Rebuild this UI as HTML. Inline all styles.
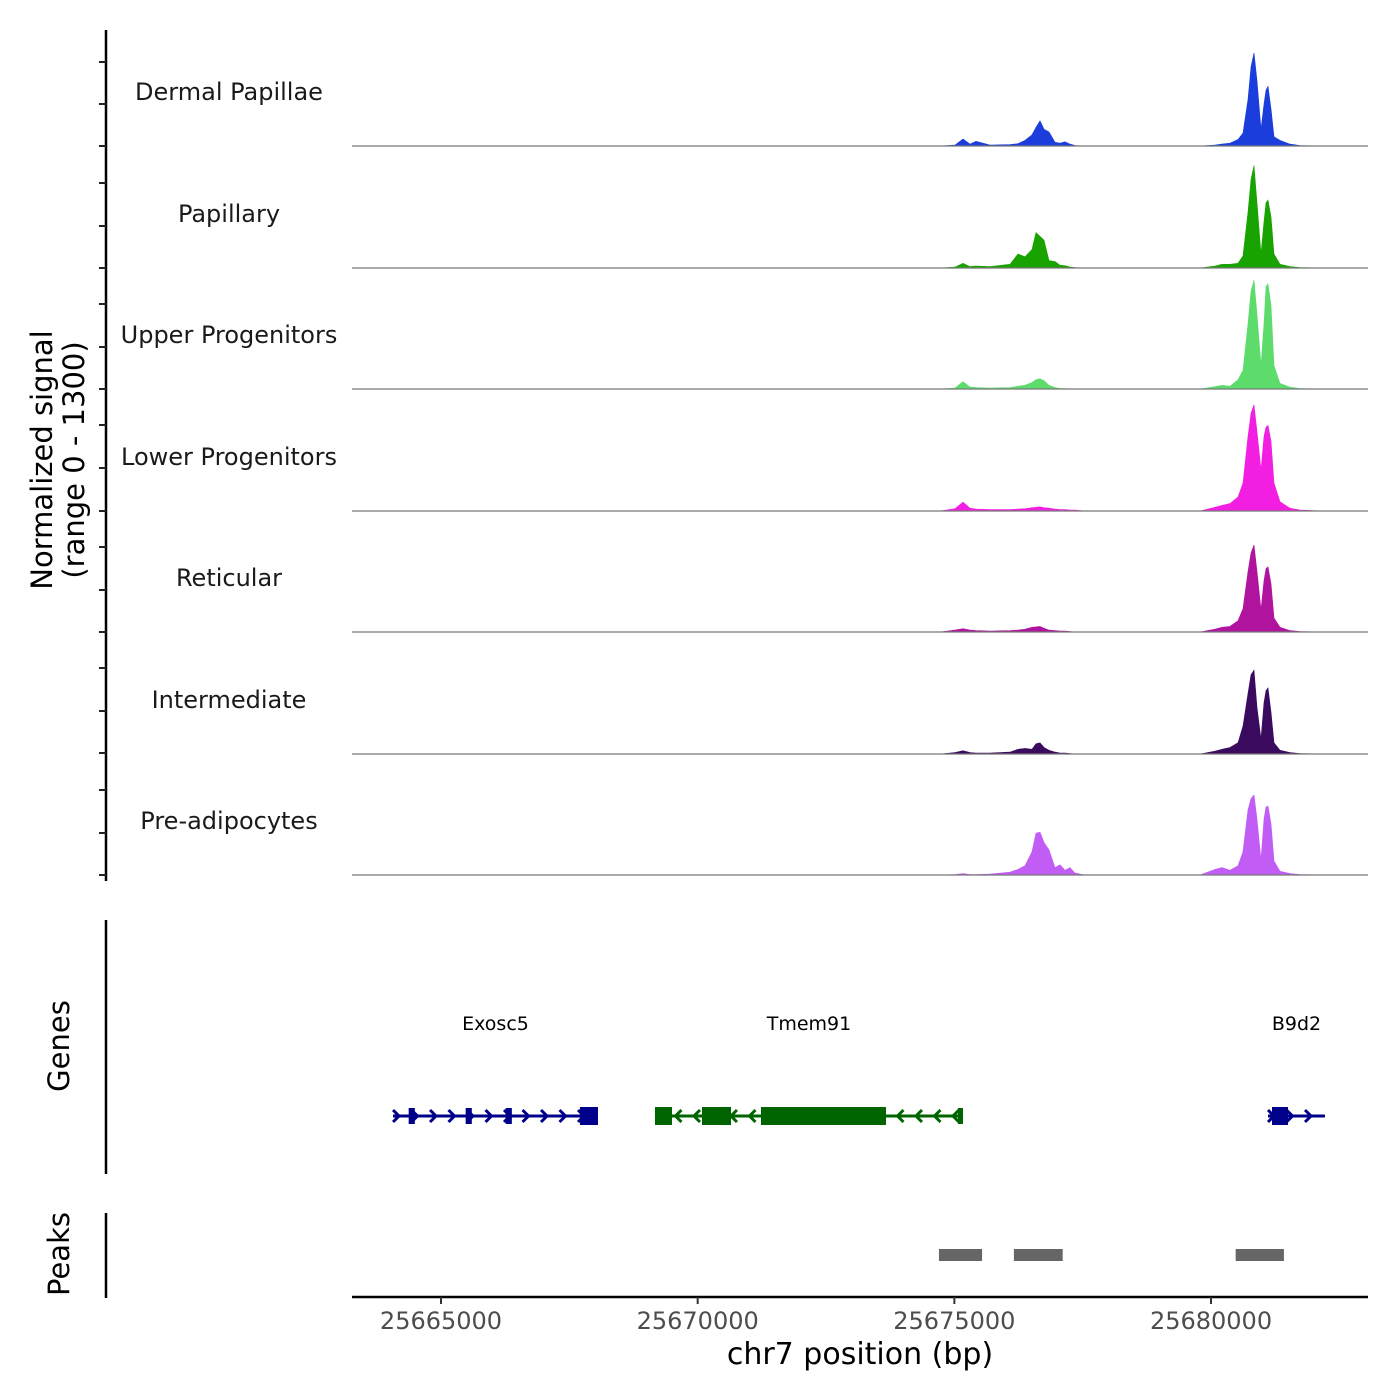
<!DOCTYPE html>
<html><head><meta charset="utf-8"><style>
html,body{margin:0;padding:0;background:#fff;}
svg{display:block;font-family:"DejaVu Sans","Liberation Sans",sans-serif;}
</style></head><body>
<svg id="chart" width="1400" height="1400" viewBox="0 0 1400 1400" xmlns="http://www.w3.org/2000/svg">
<rect width="1400" height="1400" fill="#fff"/>
<g id="tracks"></g>
<g id="yaxis"></g>
<text transform="translate(52,460) rotate(-90)" text-anchor="middle" font-size="29" fill="#000">Normalized signal</text>
<text transform="translate(84,460) rotate(-90)" text-anchor="middle" font-size="29" fill="#000">(range 0 - 1300)</text>
<g id="genes"></g>
<line x1="106" y1="920" x2="106" y2="1174" stroke="#000" stroke-width="2.5"/>
<text transform="translate(69,1046) rotate(-90)" text-anchor="middle" font-size="29">Genes</text>
<g id="peaks"></g>
<line x1="106" y1="1213" x2="106" y2="1298" stroke="#000" stroke-width="2.5"/>
<text transform="translate(69,1254) rotate(-90)" text-anchor="middle" font-size="29">Peaks</text>
<g id="xaxis"></g>
<text x="860" y="1364" text-anchor="middle" font-size="30">chr7 position (bp)</text>
</svg>
<script>
const positions=[25663266,25664201,25667903,25672675,25674721,25675013,25675169,25675305,25675422,25675695,25676084,25676240,25676376,25676513,25676591,25676669,25676746,25676844,25676961,25677058,25677156,25677253,25677350,25677545,25679785,25680078,25680214,25680370,25680526,25680623,25680720,25680779,25680837,25680896,25680974,25681032,25681071,25681110,25681168,25681227,25681344,25681539,25681733,25682181,25683058];
const trackNames=["Dermal Papillae","Papillary","Upper Progenitors","Lower Progenitors","Reticular","Intermediate","Pre-adipocytes"];
const trackColors=["#1a3ddb","#18a300","#5ddc6c","#f21ee2","#b0149e","#3a0a5e","#c15cf5"];
const sigDP=[0,0,0,0,0,10,75,20,50,10,15,25,60,120,200,270,180,150,40,30,45,20,5,0,0,10,20,30,70,140,500,850,1000,700,180,450,600,640,400,100,60,20,5,0,0];
const sigPap=[0,0,0,0,0,10,50,15,20,15,40,150,120,200,380,340,300,80,70,30,25,10,5,0,0,20,40,40,50,130,600,950,1100,700,150,500,700,730,550,150,40,15,5,0,0];
const sigUP=[0,0,0,0,0,10,80,20,15,10,15,30,40,70,100,110,90,40,15,5,5,0,0,0,0,25,40,30,100,200,700,1050,1170,800,250,700,1100,1130,900,250,60,20,5,0,0];
const sigLP=[0,0,0,0,0,25,95,30,20,15,15,20,25,35,40,45,35,30,20,15,15,10,10,0,0,40,60,80,150,300,800,1050,1140,850,440,800,900,920,750,300,100,30,10,0,0];
const sigRet=[0,0,0,0,0,20,35,20,15,10,15,20,30,50,55,60,40,20,15,10,10,5,0,0,0,30,50,60,120,250,650,850,935,650,240,550,680,700,520,150,50,15,5,0,0];
const sigInt=[0,0,0,0,0,15,35,15,10,10,20,50,60,50,110,120,70,40,20,10,10,5,0,0,0,30,50,70,120,300,650,850,900,500,160,550,680,710,450,120,40,15,5,0,0];
const sigPre=[0,0,0,0,0,5,15,5,5,10,30,60,100,250,450,460,350,270,80,110,50,80,20,0,0,60,80,50,100,250,700,820,860,600,160,600,730,740,550,150,40,15,5,0,0];
const signals=[sigDP,sigPap,sigUP,sigLP,sigRet,sigInt,sigPre];
const xTicks=[25665000,25670000,25675000,25680000];
const peakStarts=[25674700,25676160,25680480];
const peakEnds=[25675540,25677110,25681420];
const geneNames=["Exosc5","Tmem91","B9d2"];
const geneStarts=[25664065,25669168,25681110];
const geneEnds=[25668058,25675168,25682220];
const geneStrands=[1,-1,1];
const geneColors=["#00008b","#006400","#00008b"];
const exonStarts=[[25664370,25665480,25666260,25667707],[25669168,25670084,25671233,25675071]];
const exonEnds=[[25664490,25665600,25666380,25668058],[25669500,25670649,25673668,25675168]];
exonStarts.push([25681188]);
exonEnds.push([25681499]);
const exonThin=[[1,1,1,0],[0,0,0,1],[0]];

const NS="http://www.w3.org/2000/svg";
const X0=352,X1=1368,D0=25663266,D1=25683058;
function xs(bp){return X0+(bp-D0)/(D1-D0)*(X1-X0);}
const baselines=[146,268,389,511,632,754,875];
function ys(v,i){return baselines[i]-v/1300*121;}
function el(tag,attrs,parent){const e=document.createElementNS(NS,tag);for(const k in attrs)e.setAttribute(k,attrs[k]);parent.appendChild(e);return e;}

const tracks=document.getElementById('tracks');
signals.forEach((s,i)=>{
  let d=`M${xs(positions[0])},${baselines[i]}`;
  positions.forEach((p,j)=>{d+=` L${xs(p).toFixed(1)},${ys(s[j],i).toFixed(1)}`;});
  d+=` L${xs(positions[positions.length-1])},${baselines[i]} Z`;
  const a=el('path',{d:d,fill:trackColors[i],stroke:trackColors[i],'stroke-width':0.6},tracks);
  
  
  const b=el('line',{x1:X0,x2:X1,y1:baselines[i],y2:baselines[i],stroke:'#777','stroke-width':1.2},tracks);
  
  
  const t=el('text',{x:229,y:baselines[i]-46,'text-anchor':'middle','font-size':24,fill:'#1a1a1a'},tracks);
  t.textContent=trackNames[i];
  
  
});

const yaxis=document.getElementById('yaxis');
const al=el('line',{x1:106,y1:30,x2:106,y2:881,stroke:'#000','stroke-width':2.5},yaxis);


const tickYs=[62,104,146,183,226,268,304,347,389,425,468,511,547,590,632,668,711,753,790,833,875];
tickYs.forEach(y=>{const t=el('line',{x1:99,x2:106,y1:y,y2:y,stroke:'#222','stroke-width':2},yaxis);
  
  });

const genes=document.getElementById('genes');
const GY=1116;
geneNames.forEach((g,i)=>{
  const c=geneColors[i];
  const gx0=xs(geneStarts[i]),gx1=xs(geneEnds[i]);
  const ln=el('line',{x1:gx0,x2:gx1,y1:GY,y2:GY,stroke:c,'stroke-width':3},genes);
  
  
  for(let x=gx0+4;x<=gx1-2;x+=18.5){
    const dir=geneStrands[i];
    const p=el('polyline',{points:`${x-4*dir},${GY-6} ${x+2*dir},${GY} ${x-4*dir},${GY+6}`,fill:'none',stroke:c,'stroke-width':3},genes);
    
    
  }
  exonStarts[i].forEach((s,j)=>{
    const h=exonThin[i][j]?16:18;
    const r=el('rect',{x:xs(s),y:GY-h/2,width:Math.max(5,xs(exonEnds[i][j])-xs(s)),height:h,fill:c},genes);
    
    
  });
  const t=el('text',{x:(gx0+gx1)/2,y:1030,'text-anchor':'middle','font-size':19,fill:'#000'},genes);
  t.textContent=g;
  
  
});

const peaks=document.getElementById('peaks');
peakStarts.forEach((s,i)=>{
  const r=el('rect',{x:xs(s),y:1249,width:xs(peakEnds[i])-xs(s),height:12,fill:'#666'},peaks);
  
  
});

const xaxis=document.getElementById('xaxis');
const xl=el('line',{x1:X0,x2:X1,y1:1297,y2:1297,stroke:'#000','stroke-width':2.5},xaxis);


xTicks.forEach(v=>{
  const t=el('line',{x1:xs(v),x2:xs(v),y1:1297,y2:1304,stroke:'#333','stroke-width':2},xaxis);
  
  
  const l=el('text',{x:xs(v),y:1329,'text-anchor':'middle','font-size':24,fill:'#4d4d4d'},xaxis);
  l.textContent=v;
  
  
});
</script>
</body></html>
